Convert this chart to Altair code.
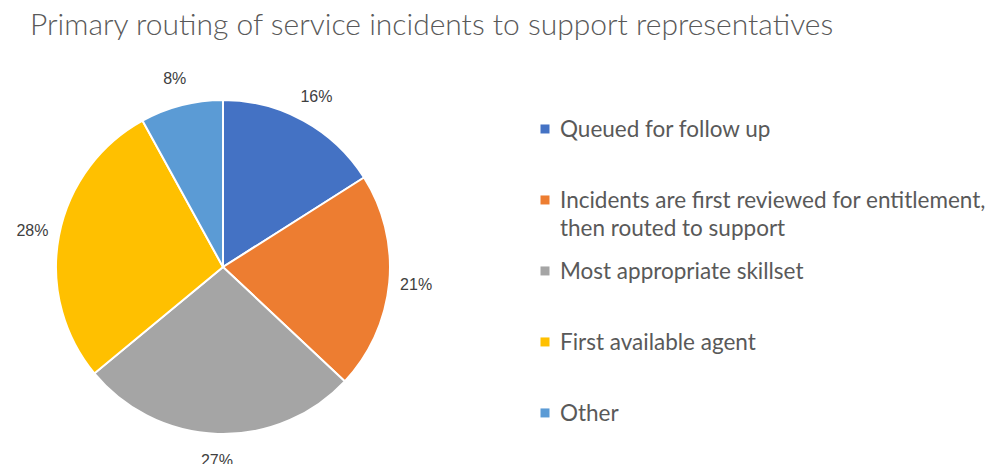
import altair as alt
import pandas as pd

title_text = "Primary routing of service incidents to support representatives"
categories = [
    "Queued for follow up",
    "Incidents are first reviewed for entitlement, then routed to support",
    "Most appropriate skillset",
    "First available agent",
    "Other",
]
legend_labels = [
    "Queued for follow up",
    "Incidents are first reviewed for entitlement,\nthen routed to support",
    "Most appropriate skillset",
    "First available agent",
    "Other",
]
shares = [16, 21, 27, 28, 8]
share_labels = ["16%", "21%", "27%", "28%", "8%"]
colors = ["#4472C4", "#ED7D31", "#A5A5A5", "#FFC000", "#5B9BD5"]

df = pd.DataFrame({
    "cat": categories,
    "legend": legend_labels,
    "share": shares,
    "label": share_labels,
    "idx": list(range(len(categories))),
})

color = alt.Color("cat:N", scale=alt.Scale(domain=categories, range=colors), legend=None)

base = alt.Chart(df).encode(
    theta=alt.Theta("share:Q", stack=True),
    order=alt.Order("idx:Q"),
    color=color,
)
arcs = base.mark_arc(outerRadius=167, stroke="white", strokeWidth=2)
labels = base.mark_text(
    radius=194, font="Liberation Sans", fontSize=16, clip=True
).encode(text="label:N", color=alt.value("#404040"))
pie = alt.layer(arcs, labels).properties(width=446, height=394)

leg_base = alt.Chart(df).encode(
    y=alt.Y("cat:N", sort=categories,
            scale=alt.Scale(type="point", padding=0.775, align=0.536), axis=None)
)
squares = leg_base.mark_square(size=81, opacity=1).encode(x=alt.value(0), color=color)
texts = leg_base.mark_text(
    align="left", baseline="top", dx=15, dy=-10, lineBreak="\n", lineHeight=28,
    font="Lato", fontSize=22.5, color="#595959",
).encode(x=alt.value(0), text="legend:N")
legend = alt.layer(squares, texts).properties(width=453, height=394)

chart = alt.hconcat(pie, legend, spacing=99, bounds="flush").properties(
    title=alt.TitleParams(
        title_text, anchor="start", dx=30, font="Lato", fontSize=30,
        fontWeight=300, color="#595959", baseline="top", offset=29,
    ),
    padding={"left": 0, "top": 11, "right": 0, "bottom": 0},
).configure_view(stroke=None)

chart.save("out.html", embed_options={"renderer": "svg", "actions": False})
